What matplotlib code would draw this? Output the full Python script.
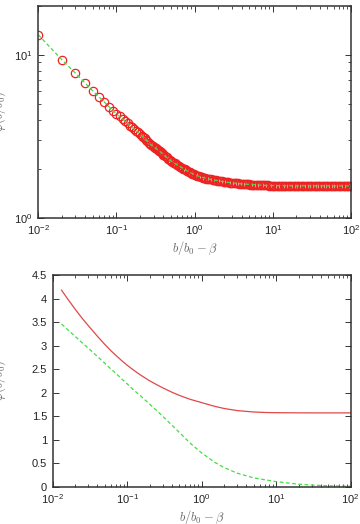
import matplotlib
matplotlib.use('Agg')
import matplotlib.pyplot as plt
from matplotlib.ticker import LogLocator, MultipleLocator, NullFormatter

plt.rcParams['font.family'] = ['Liberation Sans', 'DejaVu Sans']
plt.rcParams['mathtext.fontset'] = 'cm'
plt.rcParams['axes.unicode_minus'] = False

# top panel: numerical points (circles) with the model curve (dashed)
x_top = [0.01, 0.02, 0.03, 0.04, 0.05, 0.06, 0.07, 0.08, 0.09, 0.10,
         0.11, 0.12, 0.13, 0.14, 0.15, 0.16, 0.17, 0.18, 0.19, 0.20,
         0.21, 0.22, 0.23, 0.24, 0.25, 0.26, 0.27, 0.28, 0.29, 0.30,
         0.31, 0.32, 0.33, 0.34, 0.35, 0.36, 0.37, 0.38, 0.39, 0.40,
         0.42, 0.44, 0.46, 0.48, 0.50, 0.52, 0.54, 0.56, 0.58, 0.60,
         0.63, 0.66, 0.69, 0.72, 0.75, 0.78, 0.81, 0.84, 0.87, 0.90,
         0.94, 0.98, 1.02, 1.06, 1.10, 1.15, 1.20, 1.25, 1.30, 1.36,
         1.42, 1.48, 1.55, 1.62, 1.70, 1.78, 1.86, 1.95, 2.04, 2.14,
         2.24, 2.35, 2.46, 2.58, 2.70, 2.83, 2.96, 3.10, 3.25, 3.40,
         3.56, 3.73, 3.90, 4.10, 4.30, 4.50, 4.70, 4.90, 5.15, 5.40,
         5.65, 5.90, 6.20, 6.50, 6.80, 7.10, 7.45, 7.80, 8.20, 8.60,
         9.0, 9.5, 10.0, 10.5, 11.0, 11.5, 12.0, 12.6, 13.2, 13.8,
         14.5, 15.2, 16.0, 16.8, 17.6, 18.5, 19.4, 20.3, 21.3, 22.3,
         23.4, 24.5, 25.7, 27.0, 28.3, 29.7, 31.1, 32.6, 34.2, 35.9,
         37.6, 39.4, 41.3, 43.3, 45.4, 47.6, 50.0, 52.4, 55.0, 57.6,
         60.4, 63.3, 66.4, 69.6, 73.0, 76.5, 80.2, 84.1, 88.2, 92.5,
         96.0, 100.0]
y_top = [13.3, 9.36, 7.72, 6.70, 6.01, 5.52, 5.15, 4.82, 4.55, 4.35,
         4.19, 4.05, 3.92, 3.80, 3.68, 3.59, 3.50, 3.42, 3.35, 3.27,
         3.20, 3.14, 3.08, 3.02, 2.96, 2.90, 2.85, 2.80, 2.76, 2.73,
         2.70, 2.67, 2.64, 2.61, 2.585, 2.56, 2.53, 2.50, 2.475, 2.45,
         2.40, 2.355, 2.31, 2.27, 2.24, 2.21, 2.185, 2.16, 2.14, 2.12,
         2.09, 2.06, 2.03, 2.005, 1.985, 1.96, 1.94, 1.92, 1.905, 1.89,
         1.87, 1.85, 1.835, 1.82, 1.81, 1.80, 1.785, 1.775, 1.765, 1.755,
         1.745, 1.74, 1.73, 1.722, 1.715, 1.71, 1.702, 1.695, 1.69, 1.683,
         1.677, 1.67, 1.664, 1.658, 1.652, 1.647, 1.643, 1.64, 1.636, 1.632,
         1.628, 1.624, 1.62, 1.617, 1.614, 1.611, 1.608, 1.605, 1.603, 1.60,
         1.598, 1.596, 1.594, 1.592, 1.59, 1.588, 1.586, 1.585, 1.583, 1.582,
         1.581, 1.58, 1.579, 1.578, 1.578, 1.577, 1.577, 1.576, 1.576, 1.575,
         1.575, 1.575, 1.574, 1.574, 1.574, 1.573, 1.573, 1.573, 1.573, 1.572,
         1.572, 1.572, 1.572, 1.572, 1.571, 1.571, 1.571, 1.571, 1.571, 1.571,
         1.571, 1.571, 1.571, 1.571, 1.571, 1.571, 1.571, 1.571, 1.571, 1.571,
         1.571, 1.571, 1.571, 1.571, 1.571, 1.571, 1.571, 1.571, 1.571, 1.571,
         1.571, 1.571]

# bottom panel: two curves
x_bot = [0.0132, 0.016, 0.02, 0.025, 0.03, 0.04, 0.05, 0.06, 0.07, 0.085,
         0.1, 0.12, 0.15, 0.2, 0.25, 0.3, 0.4, 0.5, 0.7, 1.0,
         1.5, 2.0, 3.0, 5.0, 7.0, 10.0, 20.0, 30.0, 50.0, 100.0]
y_red = [4.18, 3.99, 3.78, 3.58, 3.43, 3.20, 3.03, 2.90, 2.80, 2.68,
         2.585, 2.49, 2.38, 2.255, 2.17, 2.105, 2.01, 1.945, 1.86, 1.79,
         1.71, 1.665, 1.62, 1.59, 1.58, 1.575, 1.572, 1.571, 1.571, 1.571]
y_green = [3.46, 3.34, 3.20, 3.06, 2.95, 2.77, 2.63, 2.51, 2.42, 2.29,
           2.19, 2.07, 1.94, 1.76, 1.62, 1.50, 1.31, 1.16, 0.93, 0.72,
           0.52, 0.41, 0.29, 0.19, 0.15, 0.11, 0.055, 0.037, 0.022, 0.011]

red = '#ee2222'
green = '#44dd44'
axcol = '#333333'


def style(ax):
    for s in ax.spines.values():
        s.set_color(axcol)
        s.set_linewidth(1.1)
    ax.tick_params(which='both', direction='in', top=True, right=True,
                   colors=axcol, labelcolor='#222222', labelsize=8, pad=4)
    ax.tick_params(which='major', length=4, width=0.7)
    ax.tick_params(which='minor', length=2.2, width=0.6)
    ax.set_xscale('log')
    ax.set_xlim(0.01, 100)
    ax.xaxis.set_major_locator(LogLocator(base=10, numticks=10))
    ax.xaxis.set_minor_locator(LogLocator(base=10, subs=range(2, 10), numticks=10))
    ax.xaxis.set_minor_formatter(NullFormatter())
    ax.set_xlabel(r'$b/b_0-\beta$', fontsize=9, color='#666666', labelpad=2)


fig = plt.figure(figsize=(3.6, 5.24), dpi=100)

ax1 = fig.add_axes([0.106, 0.584, 0.869, 0.405])
style(ax1)
ax1.set_yscale('log')
ax1.set_ylim(1, 20)
ax1.yaxis.set_minor_formatter(NullFormatter())
ax1.plot(x_top, y_top, 'o', mfc='none', mec=red, ms=6, mew=0.9)
ax1.plot(x_top, y_top, '--', color=green, lw=0.9, dashes=(3, 2))
ax1.set_ylabel(r'$\varphi(b/b_0)$', fontsize=9, color='#666666')
ax1.yaxis.set_label_coords(-0.096, 0.5)

ax2 = fig.add_axes([0.146, 0.071, 0.828, 0.404])
style(ax2)
ax2.set_ylim(0, 4.5)
ax2.yaxis.set_major_locator(MultipleLocator(0.5))
ax2.yaxis.set_major_formatter(lambda v, p: f'{v:g}')
ax2.plot(x_bot, y_red, '-', color='#e04848', lw=0.9)
ax2.plot(x_bot, y_green, '--', color=green, lw=0.9, dashes=(3, 2))
ax2.set_ylabel(r'$\varphi(b/b_0)$', fontsize=9, color='#666666')
ax2.yaxis.set_label_coords(-0.15, 0.5)

fig.savefig('out.png', dpi=100)
plt.close(fig)
